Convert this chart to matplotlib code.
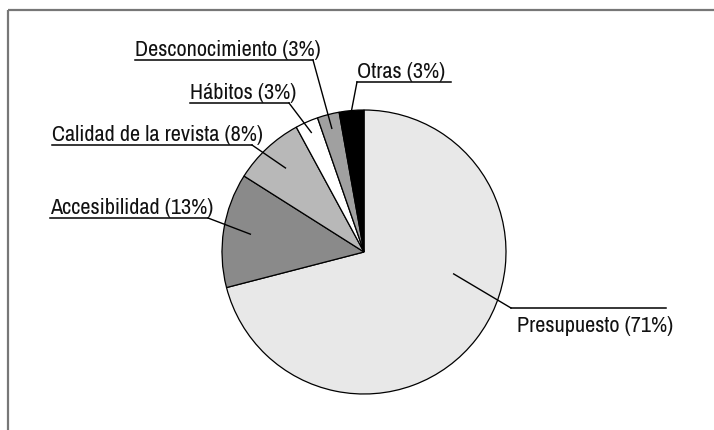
import matplotlib
matplotlib.use("Agg")
import matplotlib.pyplot as plt
import numpy as np

# shares (labels show the rounded values)
categories = ["Presupuesto", "Accesibilidad", "Calidad de la revista",
              "Hábitos", "Desconocimiento", "Otras"]
shares = [70.9, 13.0, 8.1, 2.6, 2.5, 2.8]
pct_text = ["71%", "13%", "8%", "3%", "3%", "3%"]
colors = ["#e8e8e8", "#8a8a8a", "#b8b8b8", "#ffffff", "#a0a0a0", "#000000"]

W, H = 714, 431

# label layout in pixel space: underline x0, x1, y, which end the leader starts at,
# and where the leader ends inside the wedge (fraction along wedge, fraction of radius)
label_layout = {
    "Presupuesto":           dict(x0=511, x1=666, y=309, end="left",  t=0.594, rf=0.65, below=True),
    "Accesibilidad":         dict(x0=50,  x1=208, y=219, end="right", t=0.5,   rf=0.81, below=False),
    "Calidad de la revista": dict(x0=52,  x1=252, y=146, end="right", t=0.5,   rf=0.81, below=False),
    "Hábitos":               dict(x0=190, x1=289, y=104, end="right", t=0.5,   rf=0.92, below=False),
    "Desconocimiento":       dict(x0=135, x1=313, y=61,  end="right", t=0.5,   rf=0.90, below=False),
    "Otras":                 dict(x0=357, x1=451, y=83,  end="left",  t=0.5,   rf=1.0,  below=False),
}

plt.rcParams['font.family'] = ['Archivo Narrow', 'DejaVu Sans']

fig = plt.figure(figsize=(W / 100, H / 100), dpi=100)
ax = fig.add_axes([0, 0, 1, 1])

cx, cy, r = 364, H - 253, 142
wedges, _ = ax.pie(shares, colors=colors, startangle=90, counterclock=False,
                   center=(cx, cy), radius=r, frame=True,
                   wedgeprops=dict(edgecolor="black", linewidth=0.9))
ax.set_xlim(0, W)
ax.set_ylim(0, H)
ax.set_aspect("equal")
ax.axis("off")

for wedge, name, pct in zip(wedges, categories, pct_text):
    lay = label_layout[name]
    y = H - lay["y"]
    ax.plot([lay["x0"], lay["x1"]], [y, y], color="black", lw=1.1)
    sx = lay["x1"] if lay["end"] == "right" else lay["x0"]
    ang = np.deg2rad(wedge.theta1 + lay["t"] * (wedge.theta2 - wedge.theta1))
    ex = cx + lay["rf"] * r * np.cos(ang)
    ey = cy + lay["rf"] * r * np.sin(ang)
    ax.plot([sx, ex], [y, ey], color="black", lw=1.0)
    if lay["below"]:
        ax.text(lay["x0"] + 6, y - 23, f"{name} ({pct})", ha="left", va="baseline",
                fontsize=16, color="#111111")
    else:
        ax.text(lay["x0"], y + 5, f"{name} ({pct})", ha="left", va="baseline",
                fontsize=16, color="#111111")

# partial frame: top and left edges
frame_kw = dict(color="#777777", lw=1.6, solid_capstyle="butt")
ax.plot([8, W], [H - 11, H - 11], **frame_kw)
ax.plot([8, 8], [H - 11, 0], **frame_kw)

fig.savefig("out.png", dpi=100)
